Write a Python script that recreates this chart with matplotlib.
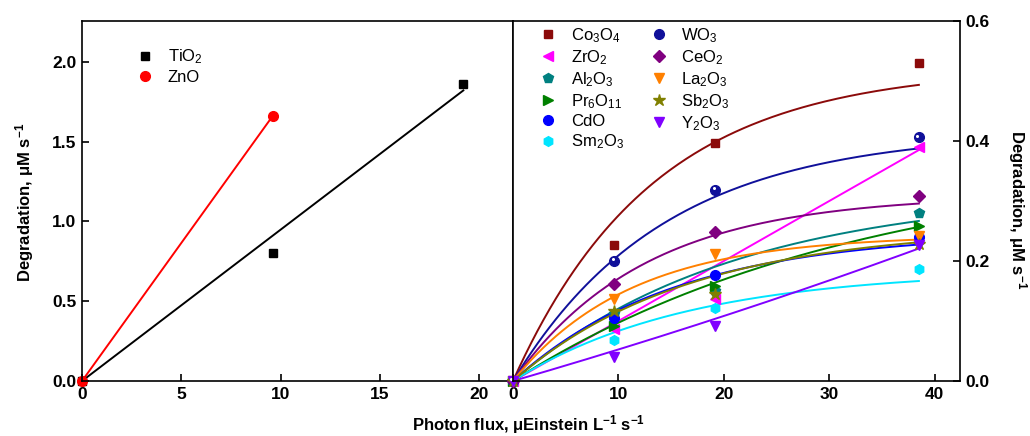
"""Photocatalytic degradation rate vs photon flux for several oxides."""

import matplotlib

matplotlib.use("Agg")
import matplotlib.pyplot as plt
import matplotlib.transforms as mtransforms
import numpy as np

plt.rcParams["font.family"] = ["Liberation Sans", "DejaVu Sans"]
plt.rcParams["mathtext.default"] = "regular"
plt.rcParams["axes.linewidth"] = 1.2

# Left panel: TiO2 and ZnO (degradation, uM/s)
tio2_flux = [0, 9.6, 19.2]
tio2_rate = [0, 0.80, 1.86]
tio2_slope = 0.0948  # linear fit through origin
zno_flux = [0, 9.6]
zno_rate = [0, 1.66]

# Right panel: other oxides, same flux levels
flux = [0, 9.6, 19.2, 38.5]
oxides = ["Co3O4", "ZrO2", "Al2O3", "Pr6O11", "CdO", "Sm2O3",
          "WO3", "CeO2", "La2O3", "Sb2O3", "Y2O3"]
labels = ["Co$_3$O$_4$", "ZrO$_2$", "Al$_2$O$_3$", "Pr$_6$O$_{11}$", "CdO",
          "Sm$_2$O$_3$", "WO$_3$", "CeO$_2$", "La$_2$O$_3$", "Sb$_2$O$_3$",
          "Y$_2$O$_3$"]
rates = {
    "Co3O4": [0, 0.227, 0.397, 0.530],
    "ZrO2": [0, 0.086, 0.137, 0.390],
    "Al2O3": [0, 0.112, 0.150, 0.280],
    "Pr6O11": [0, 0.091, 0.158, 0.259],
    "CdO": [0, 0.105, 0.176, 0.240],
    "Sm2O3": [0, 0.068, 0.121, 0.187],
    "WO3": [0, 0.200, 0.319, 0.406],
    "CeO2": [0, 0.161, 0.248, 0.309],
    "La2O3": [0, 0.137, 0.212, 0.242],
    "Sb2O3": [0, 0.117, 0.145, 0.228],
    "Y2O3": [0, 0.040, 0.092, 0.226],
}
# Fitted curves y = k * (1 - exp(-b x)) / b  (b = 0 -> straight line)
fit_slope = {"Co3O4": 0.0392, "ZrO2": 0.0100, "Al2O3": 0.0152,
             "Pr6O11": 0.01125, "CdO": 0.0161, "Sm2O3": 0.0111,
             "WO3": 0.0291, "CeO2": 0.0248, "La2O3": 0.0219,
             "Sb2O3": 0.0154, "Y2O3": 0.0051}
fit_rate = {"Co3O4": 0.075, "ZrO2": 0.0, "Al2O3": 0.048, "Pr6O11": 0.03,
            "CdO": 0.065, "Sm2O3": 0.06, "WO3": 0.07, "CeO2": 0.08,
            "La2O3": 0.09, "Sb2O3": 0.06, "Y2O3": -0.006}

colors = {"Co3O4": "#8b0a0a", "ZrO2": "#ff00ff", "Al2O3": "#008080",
          "Pr6O11": "#008000", "CdO": "#0000ff", "Sm2O3": "#00e5ff",
          "WO3": "#10109a", "CeO2": "#800080", "La2O3": "#ff8000",
          "Sb2O3": "#808000", "Y2O3": "#8000ff"}
markers = {"Co3O4": "s", "ZrO2": "<", "Al2O3": "p", "Pr6O11": ">",
           "CdO": "o", "Sm2O3": "h", "WO3": "o", "CeO2": "D",
           "La2O3": "v", "Sb2O3": "*", "Y2O3": "v"}
msize = {"s": 6, "<": 7, "p": 7, ">": 7, "o": 7, "h": 7, "D": 6,
         "v": 7, "*": 9}


def fit_curve(x, k, b):
    if b == 0:
        return k * x
    return -k * np.expm1(-b * x) / b


fig = plt.figure(figsize=(10.3, 4.36), dpi=100)
ax1 = fig.add_axes([82 / 1030, 55 / 436, 431 / 1030, 360 / 436])
ax2 = fig.add_axes([513 / 1030, 55 / 436, 447 / 1030, 360 / 436])

tick_font = dict(fontsize=12.5, fontweight="bold")

# --- left panel
xs = np.linspace(0, tio2_flux[-1], 50)
ax1.plot(xs, tio2_slope * xs, color="black", lw=1.4)
ax1.plot(zno_flux, zno_rate, color="red", lw=1.4)
ax1.plot(tio2_flux, tio2_rate, "s", color="black", ms=6, clip_on=False,
         label="TiO$_2$")
ax1.plot(zno_flux, zno_rate, "o", color="red", ms=7, clip_on=False,
         label="ZnO")
ax1.set_xlim(0, 21.7)
ax1.set_ylim(0, 2.255)
ax1.set_xticks([0, 5, 10, 15, 20])
ax1.set_yticks([0, 0.5, 1.0, 1.5, 2.0])
ax1.set_yticklabels(["0.0", "0.5", "1.0", "1.5", "2.0"], **tick_font)
ax1.set_xticklabels(["0", "5", "10", "15", "20"], **tick_font)
ax1.tick_params(direction="in", length=5, width=1.2, pad=4)
ax1.legend(loc="upper left", bbox_to_anchor=(0.108, 0.945), frameon=False,
           fontsize=12, handletextpad=0.75, labelspacing=0.25,
           handlelength=1.2, borderaxespad=0)

# --- right panel
xf = np.linspace(0, flux[-1], 200)
for ox in oxides:
    ax2.plot(xf, fit_curve(xf, fit_slope[ox], fit_rate[ox]),
             color=colors[ox], lw=1.4)
for ox, lab in zip(oxides, labels):
    m = markers[ox]
    ax2.plot(flux, rates[ox], m, color=colors[ox], ms=msize[m],
             mec=colors[ox], clip_on=False, label=lab)
# glossy highlight on the WO3 spheres
shine = mtransforms.offset_copy(ax2.transData, fig=fig, x=-1.2, y=1.2,
                                units="points")
ax2.plot(flux, rates["WO3"], "o", color="white", ms=2.2, mew=0,
         transform=shine, clip_on=False)

ax2.set_xlim(0, 42.4)
ax2.set_ylim(0, 0.6)
ax2.set_xticks([0, 10, 20, 30, 40])
ax2.set_xticklabels(["0", "10", "20", "30", "40"], **tick_font)
ax2.yaxis.tick_right()
ax2.set_yticks([0, 0.2, 0.4, 0.6])
ax2.set_yticklabels(["0.0", "0.2", "0.4", "0.6"], **tick_font)
ax2.tick_params(direction="in", length=5, width=1.2, pad=4)
ax2.legend(loc="upper left", bbox_to_anchor=(0.042, 1.005), ncol=2,
           frameon=False, fontsize=12, handletextpad=0.75, labelspacing=0.2,
           handlelength=1.2, columnspacing=1.5, borderaxespad=0)

fig.text(25 / 1030, 1 - 202 / 436, "Degradation, μM s$^{-1}$", rotation=90,
         ha="center", va="center", fontsize=12, fontweight="bold")
fig.text(1017 / 1030, 1 - 210 / 436, "Degradation, μM s$^{-1}$",
         rotation=270, ha="center", va="center", fontsize=12,
         fontweight="bold")
fig.text(529 / 1030, 1 - 425 / 436, "Photon flux, μEinstein L$^{-1}$ s$^{-1}$",
         ha="center", va="center", fontsize=12, fontweight="bold")

fig.savefig("out.png", dpi=100)
